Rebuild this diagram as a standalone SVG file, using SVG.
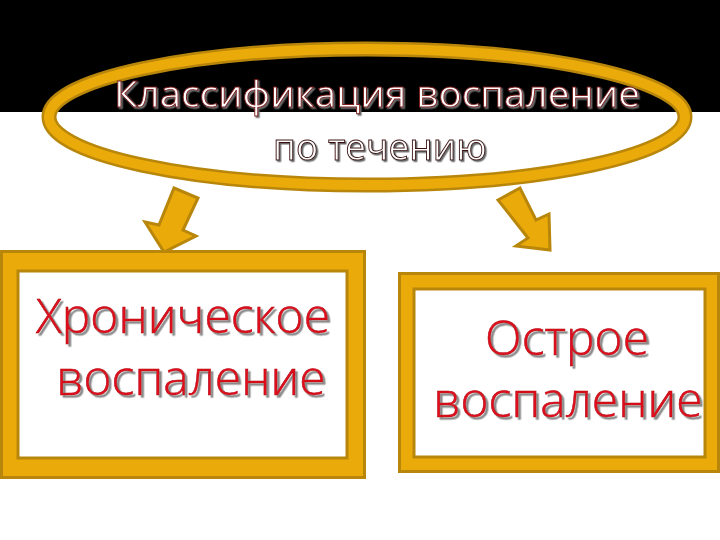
<svg xmlns="http://www.w3.org/2000/svg" width="720" height="540" viewBox="0 0 720 540">
<defs>
<filter id="sh" x="-10%" y="-20%" width="120%" height="140%"><feDropShadow dx="2.5" dy="2.5" stdDeviation="0.6" flood-color="#8a8a8a"/></filter>
<filter id="sh2" x="-10%" y="-20%" width="120%" height="140%"><feDropShadow dx="1.5" dy="1.5" stdDeviation="0.4" flood-color="#6a6a6a"/></filter>
</defs>
<style>
.gold{fill:#eaaa0a;stroke:#b8860b;stroke-width:3}
.t{font-family:"Open Sans","DejaVu Sans",sans-serif;text-anchor:middle;font-weight:300}
.title{font-size:37px;fill:#fff;stroke:#7a1a1a;stroke-width:0.9;font-weight:400}
.lbl{font-size:48px;fill:#e0101c;stroke:#b00010;stroke-width:0.5}
</style>
<rect width="720" height="540" fill="#fff"/>
<rect width="720" height="112" fill="#000"/>
<g id="connectors">
<polygon class="gold" points="174,188 198,198 183,230 196,236 164,252 145,222 159,225"/>
<polygon class="gold" points="498,200 520,188 536,220 549,214 550,250 516,246 528,238"/>
</g>
<g id="title">
<ellipse cx="367" cy="117" rx="318" ry="68" fill="none" stroke="#b8860b" stroke-width="15"/>
<ellipse cx="367" cy="117" rx="318" ry="68" fill="none" stroke="#eaaa0a" stroke-width="10"/>
<text class="t title" x="377" y="107" textLength="526" lengthAdjust="spacingAndGlyphs" filter="url(#sh2)">Классификация воспаление</text>
<text class="t title" x="380" y="160" style="stroke:#3a1010" filter="url(#sh2)">по течению</text>
</g>
<g id="chronic">
<rect class="gold" x="1.5" y="251.5" width="363" height="226"/>
<rect x="18" y="271" width="329" height="187" fill="#fff" stroke="#b8860b" stroke-width="3"/>
<text class="t lbl" x="183" y="333" filter="url(#sh)">Хроническое</text>
<text class="t lbl" x="191" y="395" filter="url(#sh)">воспаление</text>
</g>
<g id="acute">
<rect class="gold" x="399.5" y="273.5" width="319" height="198"/>
<rect x="414" y="289" width="291" height="168" fill="#fff" stroke="#b8860b" stroke-width="3"/>
<text class="t lbl" x="567" y="355" filter="url(#sh)">Острое</text>
<text class="t lbl" x="568" y="417" filter="url(#sh)">воспаление</text>
</g>
</svg>
